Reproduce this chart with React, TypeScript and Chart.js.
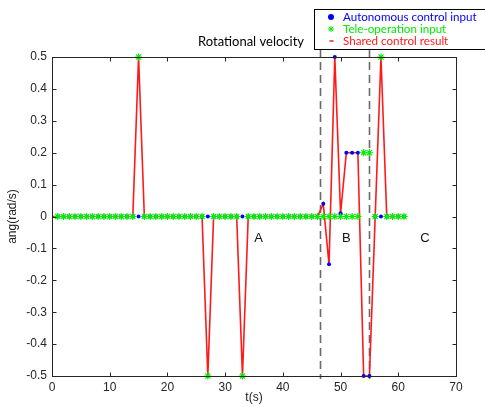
import React, { useEffect, useRef } from 'react';
import { Chart, registerables } from 'chart.js';

Chart.register(...registerables);

// time stamps (s) for the sampled inputs
const times = [
  1, 2, 3, 4, 5, 6, 7, 8, 9, 10,
  11, 12, 13, 14, 15, 16, 17, 18, 19, 20,
  21, 22, 23, 24, 25, 26, 27, 28, 29, 30,
  31, 32, 33, 34, 35, 36, 37, 38, 39, 40,
  41, 42, 43, 44, 45, 46, 47, 48, 49, 50,
  51, 52, 53, 54, 55, 56, 57, 58, 59, 60,
  61,
];

const autonomousInput = [
  0, 0, 0, 0, 0, 0, 0, 0, 0, 0,
  0, 0, 0, 0, 0, 0, 0, 0, 0, 0,
  0, 0, 0, 0, 0, 0, 0, 0, 0, 0,
  0, 0, 0, 0, 0, 0, 0, 0, 0, 0,
  0, 0, 0, 0, 0, 0, 0.04, -0.15, 0.5, 0.01,
  0.2, 0.2, 0.2, -0.5, -0.5, 0, 0, 0, 0, 0,
  0,
];

const teleInput = [
  0, 0, 0, 0, 0, 0, 0, 0, 0, 0,
  0, 0, 0, 0, 0.5, 0, 0, 0, 0, 0,
  0, 0, 0, 0, 0, 0, -0.5, 0, 0, 0,
  0, 0, -0.5, 0, 0, 0, 0, 0, 0, 0,
  0, 0, 0, 0, 0, 0, 0, 0, 0, 0,
  0, 0, 0, 0.2, 0.2, 0, 0.5, 0, 0, 0,
  0,
];

const sharedTimes = [
  0, 1, 2, 3, 4, 5, 6, 7, 8, 9, 10,
  11, 12, 13, 14, 15, 16, 17, 18, 19, 20,
  21, 22, 23, 24, 25, 26, 27, 28, 29, 30,
  31, 32, 33, 34, 35, 36, 37, 38, 39, 40,
  41, 42, 43, 44, 45, 46, 47, 48, 49, 50,
  51, 52, 53, 54, 55, 56, 57, 58, 59, 60,
  61,
];

const sharedResult = [
  0, 0, 0, 0, 0, 0, 0, 0, 0, 0, 0,
  0, 0, 0, 0, 0.5, 0, 0, 0, 0, 0,
  0, 0, 0, 0, 0, 0, -0.5, 0, 0, 0,
  0, 0, -0.5, 0, 0, 0, 0, 0, 0, 0,
  0, 0, 0, 0, 0, 0, 0.04, -0.15, 0.5, 0.01,
  0.2, 0.2, 0.2, -0.5, -0.5, 0, 0.5, 0, 0, 0,
  0,
];

const xTicks = [0, 10, 20, 30, 40, 50, 60, 70];
const yTicks = [-0.5, -0.4, -0.3, -0.2, -0.1, 0, 0.1, 0.2, 0.3, 0.4, 0.5];

const regionBounds = [46.5, 55];
const regionLabels = ['A', 'B', 'C'];
const regionLabelX = [35.8, 51, 64.6];
const regionLabelY = -0.07;

const chartTitle = 'Rotational velocity';
const xTitle = 't(s)';
const yTitle = 'ang(rad/s)';
const legendLabels = ['Autonomous control input', 'Tele-operation input', 'Shared control result'];

const BLUE = '#0000ff';
const GREEN = '#00ee00';
const RED = '#ff1a1a';
const TICK_FONT = '12px "Liberation Sans", Arial, sans-serif';
const LABEL_FONT = '"Lato", "Open Sans", sans-serif';

function drawStar(ctx: CanvasRenderingContext2D, x: number, y: number, r: number, color: string) {
  ctx.save();
  ctx.strokeStyle = color;
  ctx.lineWidth = 1;
  ctx.beginPath();
  ctx.moveTo(x - r, y); ctx.lineTo(x + r, y);
  ctx.moveTo(x, y - r); ctx.lineTo(x, y + r);
  const d = r * 0.7;
  ctx.moveTo(x - d, y - d); ctx.lineTo(x + d, y + d);
  ctx.moveTo(x - d, y + d); ctx.lineTo(x + d, y - d);
  ctx.stroke();
  ctx.restore();
}

const overlayPlugin = {
  id: 'overlay',
  beforeDatasetsDraw(chart: any) {
    const ctx = chart.ctx as CanvasRenderingContext2D;
    const xs = chart.scales.x;
    const a = chart.chartArea;
    ctx.save();
    ctx.strokeStyle = '#6a6a6a';
    ctx.lineWidth = 1.6;
    ctx.setLineDash([8, 5]);
    regionBounds.forEach((v) => {
      const px = Math.round(xs.getPixelForValue(v)) + 0.5;
      ctx.beginPath();
      ctx.moveTo(px, 49);
      ctx.lineTo(px, a.bottom + 3);
      ctx.stroke();
    });
    ctx.restore();
  },
  afterDraw(chart: any) {
    const ctx = chart.ctx as CanvasRenderingContext2D;
    const xs = chart.scales.x;
    const ys = chart.scales.y;
    const a = chart.chartArea;
    ctx.save();
    // box
    ctx.strokeStyle = '#262626';
    ctx.lineWidth = 1;
    ctx.setLineDash([]);
    const L = Math.round(a.left) + 0.5, R = Math.round(a.right) + 0.5;
    const T = Math.round(a.top) + 0.5, B = Math.round(a.bottom) + 0.5;
    ctx.strokeRect(L, T, R - L, B - T);
    // inward ticks
    ctx.beginPath();
    xTicks.forEach((v) => {
      const px = Math.round(xs.getPixelForValue(v)) + 0.5;
      ctx.moveTo(px, B); ctx.lineTo(px, B - 4);
      ctx.moveTo(px, T); ctx.lineTo(px, T + 4);
    });
    yTicks.forEach((v) => {
      const py = Math.round(ys.getPixelForValue(v)) + 0.5;
      ctx.moveTo(L, py); ctx.lineTo(L + 4, py);
      ctx.moveTo(R, py); ctx.lineTo(R - 4, py);
    });
    ctx.stroke();

    // region labels
    ctx.fillStyle = '#111';
    ctx.font = '13px "Liberation Sans", Arial, sans-serif';
    ctx.textAlign = 'center';
    ctx.textBaseline = 'middle';
    regionLabels.forEach((t, i) => {
      ctx.fillText(t, xs.getPixelForValue(regionLabelX[i]), ys.getPixelForValue(regionLabelY));
    });

    // axis titles
    ctx.font = TICK_FONT;
    ctx.fillStyle = '#222';
    ctx.fillText(xTitle, (a.left + a.right) / 2, 398);
    ctx.save();
    ctx.translate(13, (a.top + a.bottom) / 2);
    ctx.rotate(-Math.PI / 2);
    ctx.fillText(yTitle, 0, 0);
    ctx.restore();

    // title
    ctx.font = '13px ' + LABEL_FONT;
    ctx.fillStyle = '#000';
    ctx.fillText(chartTitle, 251, 42);

    // legend
    ctx.fillStyle = '#fff';
    ctx.fillRect(314.5, 9.5, 300, 40);
    ctx.strokeStyle = '#000';
    ctx.lineWidth = 1;
    ctx.strokeRect(314.5, 9.5, 300, 40);
    const rows = [17, 29, 41];
    const colors = [BLUE, GREEN, RED];
    ctx.font = '11.6px ' + LABEL_FONT;
    ctx.textAlign = 'left';
    legendLabels.forEach((t, i) => {
      ctx.fillStyle = colors[i];
      ctx.fillText(t, 343, rows[i]);
    });
    ctx.fillStyle = BLUE;
    ctx.beginPath();
    ctx.arc(331, rows[0], 3, 0, Math.PI * 2);
    ctx.fill();
    drawStar(ctx, 331, rows[1], 3, GREEN);
    ctx.strokeStyle = RED;
    ctx.lineWidth = 1.5;
    ctx.beginPath();
    ctx.moveTo(329.5, rows[2]); ctx.lineTo(333.5, rows[2]);
    ctx.stroke();
    ctx.restore();
  },
};

export default function App() {
  const canvasRef = useRef<HTMLCanvasElement | null>(null);

  useEffect(() => {
    if (!canvasRef.current) return;
    const chart = new Chart(canvasRef.current, {
      type: 'scatter',
      data: {
        datasets: [
          {
            label: legendLabels[0],
            data: times.map((t, i) => ({ x: t, y: autonomousInput[i] })),
            pointStyle: 'circle',
            pointRadius: 2,
            backgroundColor: BLUE,
            borderColor: BLUE,
            borderWidth: 0,
            showLine: false,
            order: 2,
            clip: false,
          },
          {
            label: legendLabels[1],
            data: times.map((t, i) => ({ x: t, y: teleInput[i] })),
            pointStyle: 'star',
            pointRadius: 3.6,
            backgroundColor: GREEN,
            borderColor: GREEN,
            borderWidth: 1.1,
            showLine: false,
            order: 1,
            clip: false,
          },
          {
            label: legendLabels[2],
            data: sharedTimes.map((t, i) => ({ x: t, y: sharedResult[i] })),
            pointRadius: 0,
            borderColor: RED,
            backgroundColor: RED,
            borderWidth: 1.6,
            showLine: true,
            order: 3,
            clip: false,
          },
        ],
      },
      options: {
        animation: false,
        responsive: true,
        maintainAspectRatio: false,
        layout: { padding: { top: 57, right: 29, bottom: 0, left: 0 } },
        plugins: { legend: { display: false }, tooltip: { enabled: false }, title: { display: false } },
        scales: {
          x: {
            type: 'linear',
            min: 0,
            max: 70,
            grid: { display: false, drawTicks: false },
            border: { display: false },
            afterBuildTicks: (s: any) => { s.ticks = xTicks.map((v) => ({ value: v })); },
            afterFit: (s: any) => { s.height = 31; },
            ticks: {
              autoSkip: false,
              maxRotation: 0,
              padding: 4,
              color: '#262626',
              font: { family: '"Liberation Sans", Arial, sans-serif', size: 12 },
              callback: (v: any) => String(v),
            },
          },
          y: {
            type: 'linear',
            min: -0.5,
            max: 0.5,
            grid: { display: false, drawTicks: false },
            border: { display: false },
            afterBuildTicks: (s: any) => { s.ticks = yTicks.map((v) => ({ value: v })); },
            afterFit: (s: any) => { s.width = 52; },
            ticks: {
              autoSkip: false,
              padding: 5,
              color: '#262626',
              font: { family: '"Liberation Sans", Arial, sans-serif', size: 12 },
              callback: (v: any) => { const n = Number(Number(v).toFixed(1)); return n === 0 ? '0' : String(n); },
            },
          },
        },
      },
      plugins: [overlayPlugin],
    });
    return () => chart.destroy();
  }, []);

  return (
    <div style={{ position: 'fixed', left: 0, top: 0, width: 485, height: 407, background: '#fff' }}>
      <canvas ref={canvasRef} />
    </div>
  );
}
